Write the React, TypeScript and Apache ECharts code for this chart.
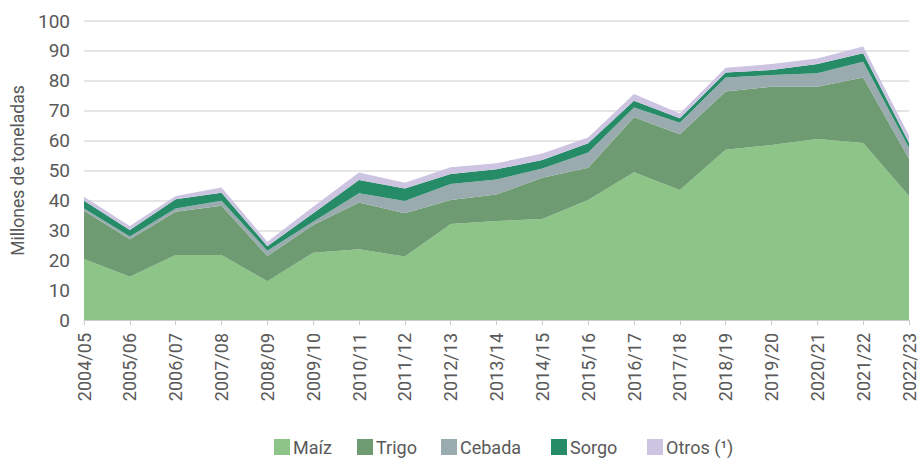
import React, { useEffect, useRef } from "react";
import * as echarts from "echarts";

const categories = [
  "2004/05", "2005/06", "2006/07", "2007/08", "2008/09", "2009/10", "2010/11",
  "2011/12", "2012/13", "2013/14", "2014/15", "2015/16", "2016/17", "2017/18",
  "2018/19", "2019/20", "2020/21", "2021/22", "2022/23",
];

const maiz = [20.4, 14.5, 21.7, 21.7, 13.0, 22.5, 23.7, 21.2, 32.1, 33.1, 33.8, 40.1, 49.4, 43.5, 56.9, 58.5, 60.5, 59.2, 41.5];
const trigo = [16.1, 12.5, 14.5, 16.5, 8.4, 9.3, 15.6, 14.5, 8.0, 8.9, 13.8, 10.8, 18.4, 18.6, 19.5, 19.5, 17.5, 21.9, 12.4];
const cebada = [0.8, 0.9, 1.1, 1.7, 1.8, 1.1, 3.1, 4.1, 5.4, 5.0, 3.1, 5.1, 3.3, 3.9, 4.7, 3.9, 4.5, 5.3, 3.7];
const sorgo = [2.6, 2.2, 3.1, 2.7, 1.5, 2.8, 4.4, 4.2, 3.3, 3.4, 2.8, 3.1, 2.2, 1.5, 1.7, 1.7, 3.1, 2.8, 1.7];
const otros = [1.3, 1.3, 1.1, 1.7, 1.5, 2.2, 2.5, 1.9, 2.3, 2.0, 2.2, 1.9, 2.3, 1.6, 1.6, 2.0, 1.9, 2.3, 2.4];

const seriesNames = ["Maíz", "Trigo", "Cebada", "Sorgo", "Otros (¹)"];
const seriesColors = ["#8dc488", "#6e9b71", "#9aabaf", "#268c67", "#cdc4e1"];
const seriesData = [maiz, trigo, cebada, sorgo, otros];

const yTicks = { min: 0, max: 100, interval: 10 };

const FONT = 'Roboto, "Liberation Sans", sans-serif';
const TEXT = "#595959";
const legendLefts = [274, 357, 441, 551, 647];

export default function App() {
  const ref = useRef<HTMLDivElement>(null);

  useEffect(() => {
    if (!ref.current) return;
    const chart = echarts.init(ref.current, undefined, { renderer: "svg" });
    chart.setOption({
      animation: false,
      textStyle: { fontFamily: FONT },
      grid: { left: 84, right: 10, top: 21, bottom: 140, containLabel: false },
      legend: seriesNames.map((n, i) => ({
        left: legendLefts[i],
        top: 438,
        padding: 0,
        itemWidth: 16,
        itemHeight: 16,
        icon: "rect",
        selectedMode: false,
        textStyle: { fontFamily: FONT, fontSize: 18, color: TEXT, padding: [0, 0, 0, -2] },
        data: [n],
      })),
      xAxis: {
        type: "category",
        data: categories,
        boundaryGap: false,
        axisLine: { lineStyle: { color: "#cccccc", width: 1 } },
        axisTick: { show: true, length: 5, lineStyle: { color: "#cccccc" } },
        axisLabel: {
          rotate: 90,
          interval: 0,
          margin: 13,
          fontFamily: FONT,
          fontSize: 18,
          color: TEXT,
        },
        splitLine: { show: false },
      },
      yAxis: {
        type: "value",
        min: yTicks.min,
        max: yTicks.max,
        interval: yTicks.interval,
        name: "Millones de toneladas",
        nameLocation: "middle",
        nameGap: 56,
        nameRotate: 90,
        nameTextStyle: { fontFamily: FONT, fontSize: 17.5, color: TEXT },
        axisLine: { show: false },
        axisTick: { show: false },
        axisLabel: { margin: 14, fontFamily: FONT, fontSize: 19, color: TEXT },
        splitLine: { lineStyle: { color: "#dddddd", width: 1.5 } },
      },
      series: seriesData.map((d, i) => ({
        name: seriesNames[i],
        type: "line",
        stack: "total",
        data: d,
        symbol: "none",
        showSymbol: false,
        lineStyle: { width: 0 },
        itemStyle: { color: seriesColors[i] },
        areaStyle: { color: seriesColors[i], opacity: 1 },
        z: 2,
      })),
    });
    return () => chart.dispose();
  }, []);

  return (
    <div
      ref={ref}
      style={{ position: "absolute", left: 0, top: 0, width: 919, height: 460, background: "#ffffff" }}
    />
  );
}
